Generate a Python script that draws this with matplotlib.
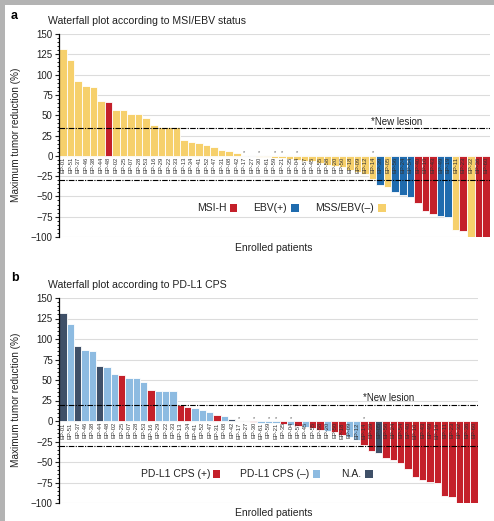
import matplotlib
matplotlib.use('Agg')
import matplotlib.pyplot as plt
from matplotlib.patches import Rectangle
from matplotlib.ticker import MultipleLocator

plt.rcParams['font.family'] = ['Liberation Sans', 'DejaVu Sans']

patients = ['EP-01', 'EP-51', 'EP-37', 'EP-46', 'EP-38', 'EP-44', 'EP-48', 'EP-02', 'EP-25', 'EP-07',
            'EP-28', 'EP-53', 'EP-16', 'EP-29', 'EP-22', 'EP-33', 'EP-13', 'EP-34', 'EP-41', 'EP-52',
            'EP-47', 'EP-31', 'EP-08', 'EP-42', 'EP-17', 'EP-27', 'EP-30', 'EP-61', 'EP-59', 'EP-21',
            'EP-35', 'EP-04', 'EP-57', 'EP-45', 'EP-55', 'EP-58', 'EP-20', 'EP-50', 'EP-18', 'EP-09',
            'EP-12', 'EP-14', 'EP-39', 'EP-05', 'EP-56', 'EP-24', 'EP-54', 'EP-40', 'EP-10', 'EP-43',
            'EP-49', 'EP-19', 'EP-11', 'EP-23', 'EP-32', 'EP-36', 'EP-60']

tumor_change = [132, 118, 92, 86, 85, 67, 66, 57, 56, 52,
                52, 47, 38, 36, 36, 36, 20, 17, 16, 13,
                11, 7, 6, 3, 0, -0.5, -1, -2, -3, -3,
                -4, -5, -6, -7, -9, -11, -12, -14, -17, -20,
                -23, -29, -36, -39, -45, -48, -51, -58, -68, -72,
                -74, -75, -91, -93, -100, -100, -100]

msi_ebv = ['MSS'] * 57
for i in [6, 47, 48, 49, 53, 55, 56]:
    msi_ebv[i] = 'MSI'
for i in [42, 44, 45, 46, 50, 51]:
    msi_ebv[i] = 'EBV'

pdl1 = ['neg'] * 57
for i in [0, 2, 5, 23, 43]:
    pdl1[i] = 'NA'
for i in [8, 12, 16, 17, 21, 26, 30, 32, 34, 35, 37, 38, 41, 42] + list(range(44, 57)):
    pdl1[i] = 'pos'

new_lesion = ['EP-17', 'EP-30', 'EP-59', 'EP-21', 'EP-04', 'EP-14']

msi_colors = {'MSI': '#C4202A', 'EBV': '#1F6BAE', 'MSS': '#F6D06C'}
pdl1_colors = {'pos': '#C4202A', 'neg': '#8DBBE1', 'NA': '#3F5068'}

W, H = 494, 521
fig = plt.figure(figsize=(W / 100, H / 100), dpi=100)
fig.patch.set_facecolor('white')


def fx(x):
    return x / W


def fy(y):
    return 1 - y / H


def panel(left, right, top, bottom, colors, upper_line):
    ax = fig.add_axes([fx(left), fy(bottom), fx(right - left), (bottom - top) / H])
    x = list(range(len(patients)))
    ax.bar(x, tumor_change, width=1.0, color=colors, edgecolor='white', linewidth=0.6, zorder=2)
    ax.set_xlim(-0.55, len(patients) - 0.45)
    ax.set_ylim(-100, 150)
    ax.yaxis.set_major_locator(MultipleLocator(25))
    ax.yaxis.set_minor_locator(MultipleLocator(5))
    ax.yaxis.grid(True, color='#dcdcdc', lw=0.8, zorder=0)
    ax.set_axisbelow(True)
    for s in ['top', 'right', 'bottom']:
        ax.spines[s].set_visible(False)
    ax.spines['left'].set_linewidth(0.9)
    ax.spines['left'].set_color('black')
    ax.tick_params(axis='y', which='major', length=3, width=0.8, labelsize=7, pad=1.5, colors='#222222')
    ax.tick_params(axis='y', which='minor', length=1.5, width=0.6)
    ax.set_xticks([])
    for i, p in enumerate(patients):
        ax.text(i, -1.5, p, rotation=90, ha='center', va='top', fontsize=4.2, color='#333333', zorder=4)
        if p in new_lesion:
            ax.text(i, max(tumor_change[i], 0) + 0.5, '*', ha='center', va='bottom', fontsize=4,
                    color='#555555', zorder=4)
    ax.axhline(upper_line, color='black', lw=0.8, ls=(0, (5, 1.2, 1, 1.2)), zorder=3)
    ax.axhline(-30, color='black', lw=0.8, ls=(0, (5, 1.2, 1, 1.2)), zorder=3)
    ax.text(0.725, upper_line + 2, '*New lesion', transform=ax.get_yaxis_transform(),
            fontsize=7, color='#222222', va='bottom', ha='left')
    return ax


def legend(items, y):
    for label, right_x, color, sq_x in items:
        fig.text(fx(right_x), fy(y), label, ha='right', va='center', fontsize=7.5, color='#222222')
        fig.add_artist(Rectangle((fx(sq_x), fy(y + 3.8)), 7.5 / W, 7.5 / H, transform=fig.transFigure,
                                 color=color, lw=0))


# Panel a
panel(59, 490, 34, 237, [msi_colors[s] for s in msi_ebv], 34)
fig.text(fx(11), fy(16), 'a', fontsize=9, fontweight='bold', va='center', ha='left')
fig.text(fx(48), fy(21), 'Waterfall plot according to MSI/EBV status', fontsize=7.6, va='center', ha='left',
         color='#222222')
fig.text(fx(16), fy(135), 'Maximum tumor reduction (%)', rotation=90, fontsize=7.2, va='center', ha='center',
         color='#222222')
legend([('MSI-H', 227, msi_colors['MSI'], 229.5),
        ('EBV(+)', 287, msi_colors['EBV'], 291),
        ('MSS/EBV(\u2013)', 374, msi_colors['MSS'], 378)], 208)
fig.text(fx(274), fy(248), 'Enrolled patients', fontsize=7.5, va='center', ha='center', color='#222222')

# Panel b
panel(59, 478, 298, 503, [pdl1_colors[s] for s in pdl1], 20)
fig.text(fx(11), fy(278), 'b', fontsize=9, fontweight='bold', va='center', ha='left')
fig.text(fx(48), fy(285), 'Waterfall plot according to PD-L1 CPS', fontsize=7.6, va='center', ha='left',
         color='#222222')
fig.text(fx(16), fy(400), 'Maximum tumor reduction (%)', rotation=90, fontsize=7.2, va='center', ha='center',
         color='#222222')
legend([('PD-L1 CPS (+)', 210, pdl1_colors['pos'], 212.5),
        ('PD-L1 CPS (\u2013)', 309, pdl1_colors['neg'], 312.5),
        ('N.A.', 361, pdl1_colors['NA'], 365)], 474)
fig.text(fx(274), fy(513), 'Enrolled patients', fontsize=7.5, va='center', ha='center', color='#222222')

# gray frame at left and top
fig.add_artist(Rectangle((0, 0), 5 / W, 1, transform=fig.transFigure, color='#b3b3b3', lw=0))
fig.add_artist(Rectangle((0, 1 - 5 / H), 1, 5 / H, transform=fig.transFigure, color='#b3b3b3', lw=0))

fig.savefig('out.png', dpi=100)
